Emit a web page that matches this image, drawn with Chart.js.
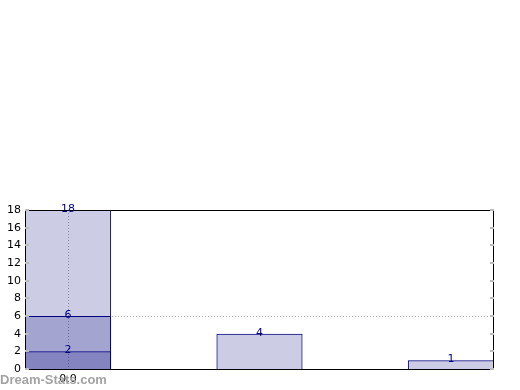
<!DOCTYPE html>
<html>
<head>
<meta charset="utf-8">
<script src="https://cdn.jsdelivr.net/npm/chart.js@4/dist/chart.umd.min.js"></script>
<style>
  html, body { margin: 0; padding: 0; background: #fff; }
  #wrap { position: relative; width: 520px; height: 390px; }
  #mark { position: absolute; left: 0; top: 372px; font: bold 13px "Liberation Sans", Arial, sans-serif; color: #a3a3a3; }
</style>
</head>
<body>
<div id="wrap">
  <canvas id="c" width="520" height="390"></canvas>
  <div id="mark">Dream-Stats.com</div>
</div>
<script>
// Datos del grafico
const positions = [0, 1, 2];
const totals = [18, 4, 1];
const middle = [6];
const inner = [2];
const yTicks = [0, 2, 4, 6, 8, 10, 12, 14, 16, 18];
const xTicks = [0];
const gridY = 6;

const NAVY = "#000080";
const FILL = "rgba(0, 0, 127, 0.2)";

function pts(values) {
  return values.map((v, i) => ({ x: positions[i], y: v }));
}

// lineas punteadas debajo de las barras; marco, ticks internos y etiquetas encima
const decor = {
  id: "decor",
  beforeDatasetsDraw(chart) {
    const { ctx, chartArea: a, scales } = chart;
    ctx.save();
    ctx.strokeStyle = "#aaa";
    ctx.lineWidth = 1;
    ctx.setLineDash([1, 2]);
    const gy = Math.round(scales.y.getPixelForValue(gridY)) + 0.5;
    ctx.beginPath(); ctx.moveTo(a.left, gy); ctx.lineTo(a.right, gy); ctx.stroke();
    xTicks.forEach(t => {
      const x = Math.round(scales.x.getPixelForValue(t)) + 0.5;
      ctx.beginPath(); ctx.moveTo(x, a.top); ctx.lineTo(x, a.bottom); ctx.stroke();
    });
    ctx.restore();
  },
  afterDatasetsDraw(chart) {
    const { ctx, chartArea: a, scales } = chart;
    ctx.save();
    ctx.strokeStyle = "#000";
    ctx.lineWidth = 1;
    ctx.strokeRect(a.left + 0.5, a.top + 0.5, a.right - a.left - 1, a.bottom - a.top);
    ctx.strokeStyle = "#bbb";
    ctx.lineWidth = 2;
    yTicks.forEach(t => {
      const y = Math.round(scales.y.getPixelForValue(t));
      ctx.beginPath();
      ctx.moveTo(a.left, y); ctx.lineTo(a.left + 4, y);
      ctx.moveTo(a.right, y); ctx.lineTo(a.right - 4, y);
      ctx.stroke();
    });
    ctx.fillStyle = NAVY;
    ctx.font = '11px "DejaVu Sans", sans-serif';
    ctx.textAlign = "center";
    ctx.textBaseline = "middle";
    chart.data.datasets.forEach((ds, di) => {
      chart.getDatasetMeta(di).data.forEach((bar, i) => {
        ctx.fillText(String(ds.data[i].y), bar.x, bar.y - 1);
      });
    });
    ctx.restore();
  },
};

new Chart(document.getElementById("c"), {
  type: "bar",
  data: {
    datasets: [
      { data: pts(totals), backgroundColor: FILL, borderColor: NAVY, borderWidth: 1 },
      { data: pts(middle), backgroundColor: FILL, borderColor: NAVY, borderWidth: 1 },
      { data: pts(inner), backgroundColor: FILL, borderColor: NAVY, borderWidth: 1 },
    ],
  },
  options: {
    responsive: false,
    animation: false,
    layout: { padding: { top: 210, right: 26, left: 0, bottom: 0 } },
    plugins: { legend: { display: false }, tooltip: { enabled: false } },
    datasets: { bar: { grouped: false, categoryPercentage: 1, barPercentage: 0.45 } },
    scales: {
      x: {
        type: "linear",
        offset: false,
        min: -0.225,
        max: 2.225,
        afterBuildTicks: s => { s.ticks = xTicks.map(v => ({ value: v })); },
        afterFit: s => { s.height = 21; },
        ticks: { color: "#000", font: { family: "DejaVu Sans", size: 11 }, padding: 4, callback: v => v.toFixed(1) },
        grid: { display: false, drawTicks: false },
        border: { display: false },
      },
      y: {
        min: 0,
        max: 18,
        afterBuildTicks: s => { s.ticks = yTicks.map(v => ({ value: v })); },
        afterFit: s => { s.width = 25; },
        ticks: { color: "#000", font: { family: "DejaVu Sans", size: 11 }, padding: 4 },
        grid: { display: false, drawTicks: false },
        border: { display: false },
      },
    },
  },
  plugins: [decor],
});
</script>
</body>
</html>
